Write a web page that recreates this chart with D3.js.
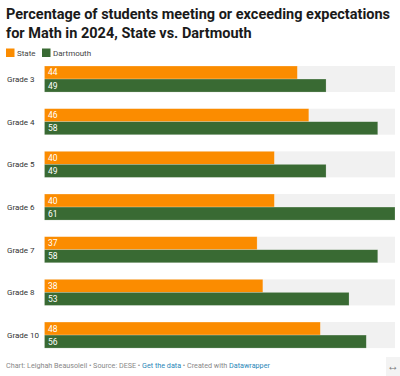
<!DOCTYPE html>
<html>
<head>
<meta charset="utf-8">
<script src="https://cdn.jsdelivr.net/npm/d3@7"></script>
<style>
  body { margin: 0; background: #fff; }
  svg { display: block; font-family: Roboto, "Noto Sans", sans-serif; }
</style>
</head>
<body>
<svg id="chart" width="400" height="376" font-family="Roboto"></svg>
<script>
// Data
var grades = ["Grade 3", "Grade 4", "Grade 5", "Grade 6", "Grade 7", "Grade 8", "Grade 10"];
var seriesNames = ["State", "Dartmouth"];
var stateValues = [44, 46, 40, 40, 37, 38, 48];
var dartmouthValues = [49, 58, 49, 61, 58, 53, 56];
var colors = ["#fb8c00", "#396a33"];

var svg = d3.select("#chart");

// Title
var title = svg.append("text")
    .attr("font-size", 14.5)
    .attr("font-weight", "bold")
    .attr("fill", "#1a1a1a");
title.append("tspan").attr("x", 6).attr("y", 19)
    .text("Percentage of students meeting or exceeding expectations");
title.append("tspan").attr("x", 6).attr("y", 38)
    .text("for Math in 2024, State vs. Dartmouth");

// Legend
var legendX = [6, 42];
var legend = svg.append("g").attr("font-size", 8).attr("fill", "#444")
    .selectAll("g")
    .data(seriesNames)
    .enter().append("g")
    .attr("transform", function (d, i) { return "translate(" + legendX[i] + ",48.5)"; });

legend.append("rect")
    .attr("width", 8.5).attr("height", 8.5)
    .attr("fill", function (d, i) { return colors[i]; });

legend.append("text")
    .attr("x", 11).attr("y", 4.5).attr("dy", "0.35em")
    .text(function (d) { return d; });

// Scales
var x = d3.scaleLinear().domain([0, d3.max(dartmouthValues.concat(stateValues))]).range([44.5, 395]);
var y = d3.scaleBand().domain(grades).range([57.7, 356.4]).paddingInner(0.39).paddingOuter(0.39 / 2);
var sub = d3.scaleBand().domain(seriesNames).range([0, y.bandwidth()]);

var rows = svg.append("g").selectAll("g")
    .data(grades)
    .enter().append("g")
    .attr("transform", function (d) { return "translate(0," + y(d) + ")"; });

// Background track
rows.append("rect")
    .attr("x", x(0))
    .attr("width", x.range()[1] - x(0))
    .attr("height", y.bandwidth())
    .attr("fill", "#f1f1f1");

// Grade labels
rows.append("text")
    .attr("x", 7)
    .attr("y", y.bandwidth() / 2)
    .attr("dy", "0.35em")
    .attr("font-size", 8)
    .attr("fill", "#333")
    .text(function (d) { return d; });

// Bars
var vals = [stateValues, dartmouthValues];
seriesNames.forEach(function (s, si) {
    rows.append("rect")
        .attr("x", x(0))
        .attr("y", sub(s))
        .attr("width", function (d, i) { return x(vals[si][i]) - x(0); })
        .attr("height", sub.bandwidth())
        .attr("fill", colors[si])
        .attr("stroke", "rgba(255,255,255,0.35)")
        .attr("stroke-width", 0.6);

    rows.append("text")
        .attr("x", x(0) + 3.5)
        .attr("y", sub(s) + sub.bandwidth() / 2)
        .attr("dy", "0.35em")
        .attr("font-size", 8.5)
        .attr("fill", "#fff")
        .text(function (d, i) { return vals[si][i]; });
});

// Footer
var foot = svg.append("text")
    .attr("x", 6).attr("y", 368)
    .attr("font-size", 7.2)
    .attr("fill", "#888");
foot.append("tspan").text("Chart: Leighah Beausoleil \u2022 Source: DESE \u2022 ");
foot.append("tspan").attr("fill", "#2a87b8").text("Get the data");
foot.append("tspan").text(" \u2022 Created with ");
foot.append("tspan").attr("fill", "#2a87b8").text("Datawrapper");

// Resize icon
svg.append("rect").attr("x", 386).attr("y", 357).attr("width", 14).attr("height", 19).attr("fill", "#f3f3f3");
svg.append("text").attr("x", 393).attr("y", 370).attr("text-anchor", "middle")
    .attr("font-size", 12).attr("fill", "#777").text("\u2194");
</script>
</body>
</html>
